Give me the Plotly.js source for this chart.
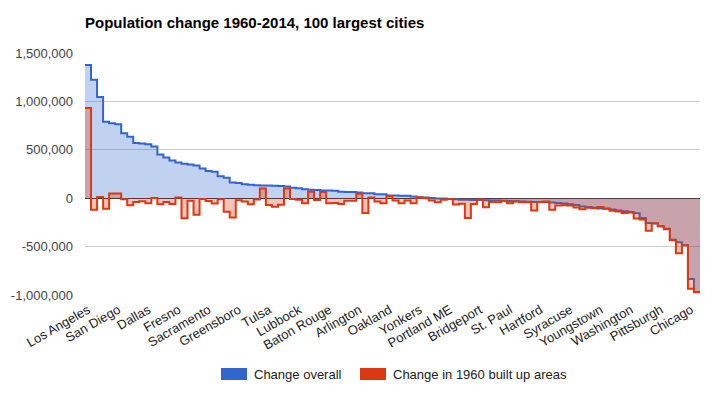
<!DOCTYPE html>
<html>
<head>
<meta charset="utf-8">
<script src="https://cdn.plot.ly/plotly-3.0.1.min.js"></script>
<style>html,body{margin:0;padding:0;background:#fff;}#chart{width:720px;height:395px;}</style>
</head>
<body>
<div id="chart"></div>
<script>
const labelIndex = [0,5,10,15,20,25,30,35,40,45,50,55,60,65,70,75,80,85,90,95,100];
const cityLabels = ['Los Angeles','San Diego','Dallas','Fresno','Sacramento','Greensboro','Tulsa','Lubbock','Baton Rouge','Arlington','Oakland','Yonkers','Portland ME','Bridgeport','St. Paul','Hartford','Syracuse','Youngstown','Washington','Pittsburgh','Chicago'];

const changeOverall = [
 1375000,1223000,1045000,791000,774000,764000,671000,634000,569000,565000,
 558000,534000,452000,421000,390000,370000,356000,349000,339000,308000,
 281000,274000,226000,212000,161000,158000,144000,138000,134000,131000,
 130000,129000,127000,120000,108000,104000,92000,87000,85000,80000,
 79000,77000,66000,65000,63000,58000,52000,50000,42000,40000,
 28000,27000,26000,25000,17000,8000,6000,3000,-2000,-4000,
 -7000,-12000,-15000,-17000,-18000,-19000,-21000,-23000,-25000,-27000,
 -30000,-32000,-34000,-36000,-38000,-40000,-41000,-45000,-50000,-55000,
 -62000,-70000,-85000,-92000,-98000,-106000,-110000,-118000,-128000,-136000,
 -142000,-155000,-205000,-255000,-262000,-290000,-316000,-430000,-455000,-485000,
 -835000,-970000
];

const changeBuiltUp = [
 932000,-120000,12000,-110000,48000,48000,-10000,-72000,-40000,-32000,
 -53000,3000,-63000,-38000,-60000,7000,-207000,-27000,-172000,-8000,
 -28000,-56000,-12000,-140000,-199000,-20000,-34000,-63000,-14000,100000,
 -70000,-88000,-68000,99000,-7000,-15000,-53000,67000,-19000,65000,
 -51000,-50000,-60000,-26000,-26000,45000,-154000,7000,-34000,-51000,
 24000,-24000,-51000,-24000,-51000,10000,0,-24000,-41000,-17000,
 -8000,-65000,-58000,-205000,-60000,-14000,-94000,-38000,-43000,-30000,
 -51000,-34000,-41000,-41000,-127000,-38000,-34000,-120000,-75000,-72000,
 -75000,-96000,-113000,-99000,-103000,-90000,-106000,-130000,-137000,-154000,
 -147000,-209000,-219000,-337000,-260000,-291000,-322000,-435000,-568000,-485000,
 -935000,-972000
];

const yTickValues = [-1000000,-500000,0,500000,1000000,1500000];
const seriesNames = ['Change overall','Change in 1960 built up areas'];

// step positions: one step per city, closing point at the right edge
function stepX(vals){ const xs = vals.map((_, i) => i); xs.push(vals.length); return xs; }
function stepY(vals){ const ys = vals.slice(); ys.push(vals[vals.length-1]); return ys; }

const N = changeOverall.length;
const FONT = 'Liberation Sans, Arial, sans-serif';

const traces = [
  {x: stepX(changeOverall), y: stepY(changeOverall), type:'scatter', mode:'lines', name: seriesNames[0],
   line:{shape:'hv', color:'#3366cc', width:2}, fill:'tozeroy', fillcolor:'rgba(51,102,204,0.3)', showlegend:false, hoverinfo:'skip'},
  {x: stepX(changeBuiltUp), y: stepY(changeBuiltUp), type:'scatter', mode:'lines', name: seriesNames[1],
   line:{shape:'hv', color:'#dc3912', width:2}, fill:'tozeroy', fillcolor:'rgba(220,57,18,0.3)', showlegend:false, hoverinfo:'skip'}
];

const plotL = 85, plotR = 700, plotT = 53, plotB = 295;
function px(xp){ return (xp - plotL) / (plotR - plotL); }
function py(yp){ return (plotB - yp) / (plotB - plotT); }

const layout = {
  width:720, height:395,
  margin:{l:plotL, r:720-plotR, t:plotT, b:395-plotB},
  paper_bgcolor:'#fff', plot_bgcolor:'#fff',
  font:{family:FONT, size:13, color:'#222'},
  title:{text:'Population change 1960-2014, 100 largest cities', font:{family:FONT, size:15, color:'#000', weight:'bold'},
         x:85/720, xanchor:'left', xref:'container', y:1-23/395, yanchor:'middle', yref:'container'},
  xaxis:{range:[0, N], showgrid:false, zeroline:false, showline:false, ticks:'',
         tickvals: labelIndex.map(i => i + 0.5), ticktext: cityLabels, tickangle:-30, ticklabelstandoff:4,
         tickfont:{family:FONT, size:13, color:'#222'}, fixedrange:true},
  yaxis:{range:[-1000000, 1500000], tickvals:yTickValues, ticktext: yTickValues.map(v => v.toLocaleString('en-US')),
         showgrid:true, gridcolor:'#cccccc', gridwidth:1, zeroline:true, zerolinecolor:'#333333', zerolinewidth:1,
         ticks:'', ticklabelstandoff:11, tickfont:{family:FONT, size:13, color:'#444'}, fixedrange:true},
  shapes:[
    {type:'rect', xref:'paper', yref:'paper', x0:px(221), x1:px(247), y0:py(380), y1:py(368), fillcolor:'#3366cc', line:{width:0}},
    {type:'rect', xref:'paper', yref:'paper', x0:px(360), x1:px(386), y0:py(380), y1:py(368), fillcolor:'#dc3912', line:{width:0}}
  ],
  annotations:[
    {xref:'paper', yref:'paper', x:px(252), y:py(374), xanchor:'left', yanchor:'middle', text:seriesNames[0], showarrow:false, font:{family:FONT, size:13, color:'#222'}},
    {xref:'paper', yref:'paper', x:px(391), y:py(374), xanchor:'left', yanchor:'middle', text:seriesNames[1], showarrow:false, font:{family:FONT, size:13, color:'#222'}}
  ],
  showlegend:false
};

Plotly.newPlot('chart', traces, layout, {displayModeBar:false, staticPlot:true});
</script>
</body>
</html>
